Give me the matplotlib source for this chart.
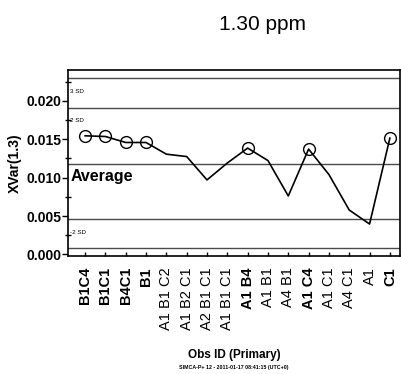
import matplotlib
matplotlib.use("Agg")
import matplotlib.pyplot as plt
from matplotlib.ticker import MultipleLocator, FormatStrFormatter

plt.rcParams['font.family'] = ['Liberation Sans', 'DejaVu Sans']

obs_ids = ["B1C4", "B1C1", "B4C1", "B1", "A1 B1 C2", "A1 B2 C1", "A2 B1 C1", "A1 B1 C1",
           "A1 B4", "A1 B1", "A4 B1", "A1 C4", "A1 C1", "A4 C1", "A1", "C1"]
xvar = [0.01544, 0.01535, 0.01457, 0.01457, 0.01305, 0.01274, 0.0097, 0.0119,
        0.01384, 0.01222, 0.00761, 0.01371, 0.0104, 0.00578, 0.00396, 0.01514]
highlighted = ["B1C4", "B1C1", "B4C1", "B1", "A1 B4", "A1 C4", "C1"]

limit_names = ["3 SD", "2 SD", "Average", "-2 SD", "-3 SD"]
limit_values = [0.0230, 0.0191, 0.01175, 0.00457, 0.0008]

fig = plt.figure(figsize=(4.01, 3.74), dpi=100)
ax = fig.add_axes([0.1696, 0.3155, 0.828, 0.4973])

x = list(range(len(obs_ids)))
for name, val in zip(limit_names, limit_values):
    ax.axhline(val, color='#4a4a4a', lw=1.0, zorder=1)

ax.plot(x, xvar, color='black', lw=1.2, zorder=3)
hx = [i for i, n in enumerate(obs_ids) if n in highlighted]
hy = [xvar[i] for i in hx]
ax.plot(hx, hy, linestyle='none', marker='o', markersize=8.5, markerfacecolor='none',
        markeredgecolor='black', markeredgewidth=1.0, zorder=4)

# limit labels
ax.text(-0.72, 0.0212, "3 SD", fontsize=4.5, va='center', ha='left')
ax.text(-0.72, 0.0174, "2 SD", fontsize=4.5, va='center', ha='left')
ax.text(-0.72, 0.0102, "Average", fontsize=11.5, fontweight='bold', va='center', ha='left')
ax.text(-0.72, 0.0028, "-2 SD", fontsize=4.5, va='center', ha='left')

ax.set_xlim(-0.84, 15.5)
ax.set_ylim(-0.0002, 0.0240)
ax.yaxis.set_major_locator(MultipleLocator(0.005))
ax.yaxis.set_minor_locator(MultipleLocator(0.0025))
ax.yaxis.set_major_formatter(FormatStrFormatter('%.3f'))
ax.tick_params(axis='y', which='major', direction='out', length=4, width=1, labelsize=10, pad=1)
ax.tick_params(axis='y', which='minor', direction='inout', length=5, width=1)
for lbl in ax.get_yticklabels():
    lbl.set_fontweight('bold')

ax.set_xticks(x)
ax.set_xticklabels(obs_ids, rotation=90, fontsize=10.5)
for lbl, name in zip(ax.get_xticklabels(), obs_ids):
    if name in highlighted:
        lbl.set_fontweight('bold')
ax.tick_params(axis='x', direction='in', length=3, width=1, pad=8)

for s in ax.spines.values():
    s.set_linewidth(1.2)

ax.set_ylabel("XVar(1.3)", fontsize=10, fontweight='bold', labelpad=3)
ax.set_xlabel("Obs ID (Primary)", fontsize=8.5, fontweight='bold', labelpad=14)

fig.text(0.655, 0.935, "1.30 ppm", fontsize=15, ha='center', va='center')
fig.text(0.582, 0.018, "SIMCA-P+ 12 - 2011-01-17 08:41:15 (UTC+0)", fontsize=3.8,
         fontweight='bold', ha='center', va='center')

fig.savefig("out.png", dpi=100)
